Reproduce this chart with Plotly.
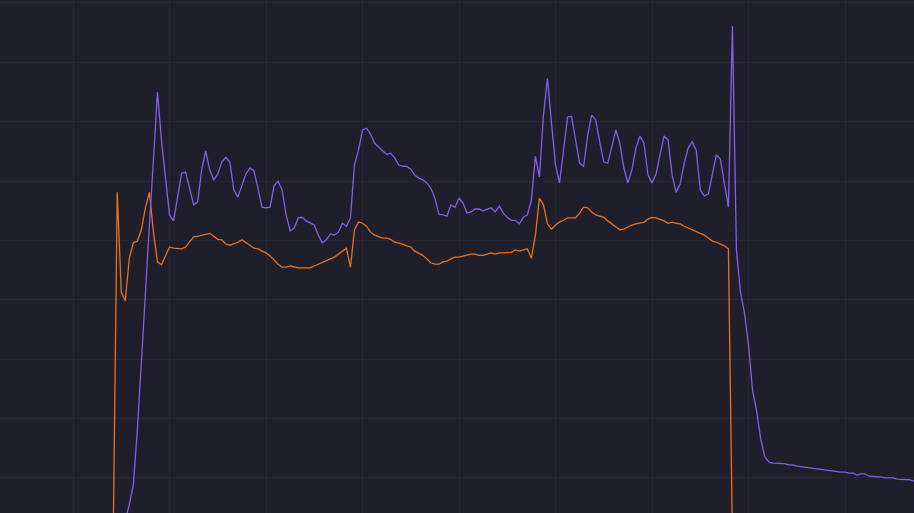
import plotly.graph_objects as go

# sample times (s), one point every 5 s
t = list(range(50, 1055, 5))

purple_vals = [
    0, 0, 0, 2.9, 5.5, 8.8, 18.1, 29.5, 41.6, 52.6,
    63.5, 75.0, 66.9, 60.2, 54.3, 53.3, 57.6, 61.3, 61.5, 58.5,
    56.0, 56.5, 61.9, 65.1, 61.9, 60.2, 61.2, 63.2, 64.0, 63.2,
    58.5, 57.3, 59.2, 61.2, 62.2, 61.7, 58.8, 55.6, 55.5, 55.6,
    59.2, 60.0, 58.5, 54.3, 51.6, 52.1, 53.8, 53.9, 53.3, 52.9,
    52.6, 50.9, 49.6, 50.1, 51.1, 50.9, 51.4, 52.9, 52.4, 53.8,
    62.7, 65.2, 68.6, 68.9, 67.9, 66.4, 65.7, 65.1, 64.5, 64.7,
    63.9, 62.7, 62.5, 62.5, 62.0, 61.0, 60.5, 60.2, 59.7, 58.8,
    57.1, 54.4, 54.3, 54.1, 56.0, 55.6, 57.1, 56.3, 54.6, 54.8,
    55.3, 55.3, 55.0, 55.3, 55.5, 54.8, 55.8, 54.6, 53.9, 53.4,
    53.4, 52.8, 53.9, 54.3, 56.8, 64.2, 60.7, 71.1, 77.3, 69.8,
    62.7, 59.7, 65.7, 70.8, 70.9, 66.9, 63.0, 62.5, 67.7, 71.1,
    70.3, 66.6, 63.2, 63.0, 65.6, 68.6, 66.4, 62.2, 59.7, 61.9,
    65.6, 67.6, 66.4, 61.0, 59.7, 61.2, 64.4, 67.6, 66.9, 61.0,
    58.1, 59.5, 63.0, 65.6, 66.6, 65.2, 58.5, 57.5, 57.8, 61.0,
    64.4, 63.7, 59.8, 55.6, 86.1, 48.4, 41.3, 37.8, 32.4, 24.8,
    21.4, 16.7, 13.7, 12.7, 12.5, 12.5, 12.4, 12.4, 12.2, 12.2,
    12.0, 11.9, 11.9, 11.7, 11.7, 11.5, 11.5, 11.3, 11.2, 11.2,
    11.0, 11.0, 11.0, 10.8, 10.8, 10.5, 10.7, 10.7, 10.3, 10.2,
    10.2, 10.2, 10.0, 10.0, 10.0, 9.8, 9.8, 9.7, 9.7, 9.5,
    9.5,
]

orange_vals = [
    0, 58.1, 41.3, 39.8, 47.0, 49.6, 49.9, 51.8, 55.5, 58.1,
    51.4, 46.4, 45.9, 47.5, 48.9, 48.7, 48.6, 48.6, 48.9, 49.7,
    50.6, 50.7, 50.9, 51.1, 51.2, 50.7, 50.2, 50.1, 49.4, 49.2,
    49.4, 49.7, 50.1, 49.7, 49.2, 48.7, 48.6, 48.2, 47.9, 47.4,
    46.7, 46.0, 45.5, 45.5, 45.7, 45.5, 45.4, 45.4, 45.4, 45.4,
    45.7, 46.0, 46.4, 46.7, 46.9, 47.2, 47.7, 48.2, 48.7, 45.5,
    51.8, 53.1, 52.9, 52.4, 51.4, 50.9, 50.6, 50.4, 50.4, 50.2,
    49.7, 49.6, 49.4, 49.1, 48.9, 48.2, 47.9, 47.5, 46.9, 46.2,
    46.0, 46.0, 46.4, 46.5, 46.9, 47.2, 47.2, 47.4, 47.5, 47.7,
    47.7, 47.5, 47.5, 47.7, 47.9, 47.7, 47.9, 47.9, 47.9, 48.0,
    48.4, 48.2, 48.4, 48.6, 47.0, 50.9, 57.1, 56.0, 52.8, 51.9,
    52.6, 53.1, 53.4, 53.8, 53.8, 53.8, 54.6, 55.6, 55.5, 54.8,
    54.3, 54.1, 53.9, 53.3, 52.8, 52.3, 51.8, 51.9, 52.3, 52.6,
    52.8, 52.9, 53.1, 53.6, 53.9, 53.8, 53.6, 53.3, 52.9, 53.1,
    52.9, 52.8, 52.4, 52.1, 51.8, 51.4, 51.1, 50.9, 50.4, 49.9,
    49.7, 49.4, 49.1, 48.6, 0,
]

BG = "#1f1f2b"
GRID = "#262634"

fig = go.Figure()
fig.add_trace(
    go.Scatter(
        x=t[: len(orange_vals)],
        y=orange_vals,
        mode="lines",
        line=dict(color="#e8701e", width=1.3),
        name="orange",
    )
)
fig.add_trace(
    go.Scatter(
        x=t,
        y=purple_vals,
        mode="lines",
        line=dict(color="#835ee8", width=1.3),
        name="purple",
    )
)

fig.update_layout(
    width=914,
    height=513,
    margin=dict(l=0, r=0, t=0, b=0),
    paper_bgcolor=BG,
    plot_bgcolor=BG,
    showlegend=False,
    xaxis=dict(
        range=[-90.8, 1045.8],
        tick0=0,
        dtick=120,
        showticklabels=False,
        gridcolor=GRID,
        gridwidth=1,
        zeroline=False,
        showline=False,
    ),
    yaxis=dict(
        range=[4.1, 90.5],
        tick0=0,
        dtick=10,
        showticklabels=False,
        gridcolor=GRID,
        gridwidth=1,
        zeroline=False,
        showline=False,
    ),
)

# drop the browser's default body margin so the chart fills the window
fig.write_html(
    "out.html",
    config={"displayModeBar": False},
    post_script="document.body.style.margin='0';document.body.style.background='#1f1f2b';",
)
